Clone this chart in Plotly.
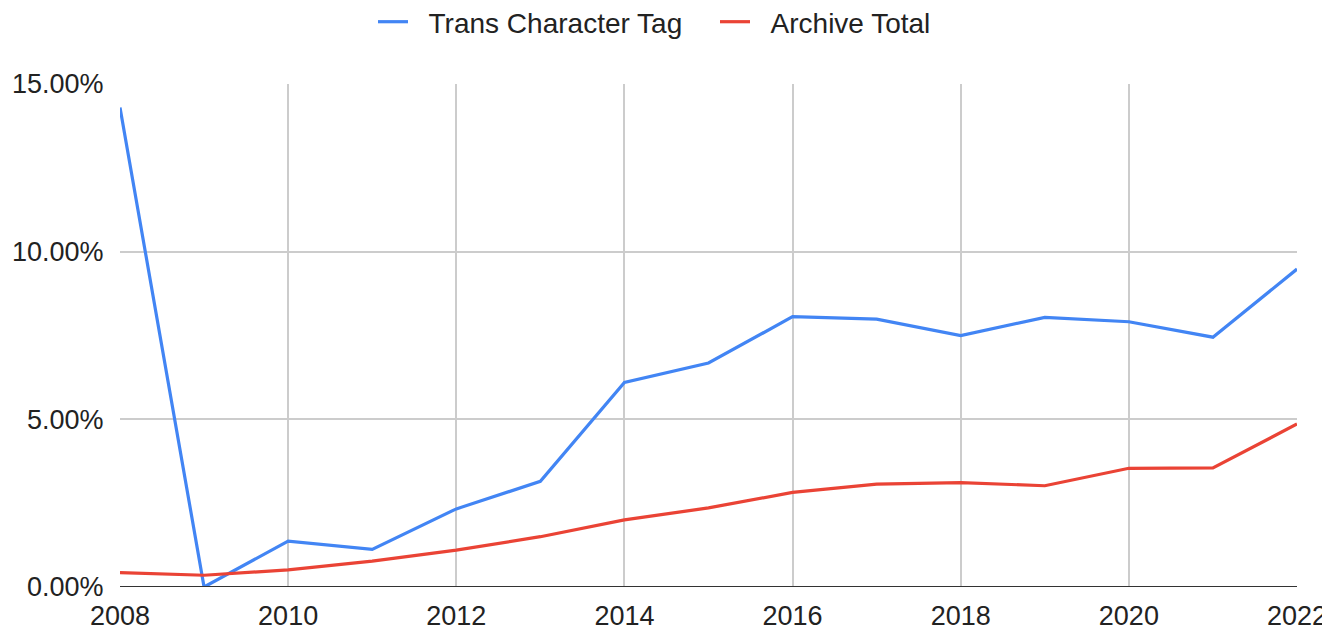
import plotly.graph_objects as go

years = list(range(2008, 2023))
trans_tag = [14.3, 0.0, 1.37, 1.12, 2.33, 3.15, 6.1, 6.68, 8.06, 7.99, 7.5, 8.04, 7.91, 7.45, 9.48]
archive_total = [0.43, 0.35, 0.51, 0.77, 1.1, 1.5, 2.0, 2.36, 2.82, 3.07, 3.11, 3.02, 3.54, 3.55, 4.86]
series_names = ["Trans Character Tag", "Archive Total"]
y_ticks = [0, 5, 10, 15]
x_ticks = list(range(2008, 2023, 2))

FONT = "Liberation Sans, Arial, sans-serif"
TXT = "#222222"
W, H = 1322, 622  # page body has an 8px margin in the 1330x630 window
PAD = "\u00a0\u00a0"  # gap between legend swatch and label

fig = go.Figure()
fig.add_trace(go.Scatter(x=years, y=trans_tag, mode="lines", name=PAD + series_names[0],
                         line=dict(color="#4285F4", width=3.2)))
fig.add_trace(go.Scatter(x=years, y=archive_total, mode="lines", name=PAD + series_names[1],
                         line=dict(color="#EA4335", width=3.2)))

fig.update_layout(
    width=W, height=H,
    margin=dict(l=112, r=33, t=76, b=43, autoexpand=False),
    paper_bgcolor="white", plot_bgcolor="white",
    font=dict(family=FONT, size=27, color=TXT),
    showlegend=True,
    legend=dict(orientation="h", x=365 / W, xanchor="left", y=1 - 14 / H, yanchor="middle",
                xref="container", yref="container", entrywidth=297,
                font=dict(size=28, color=TXT), itemwidth=30),
)
fig.update_xaxes(range=[2008, 2022], tickvals=x_ticks, ticktext=[str(v) for v in x_ticks],
                 showgrid=True, gridcolor="#cccccc", gridwidth=1.5, zeroline=False,
                 showline=False, ticks="outside", ticklen=5, tickcolor="rgba(0,0,0,0)",
                 tickfont=dict(size=27, color=TXT))
fig.update_yaxes(range=[0, 15], tickvals=y_ticks, ticktext=[f"{v:.2f}%" for v in y_ticks],
                 showgrid=True, gridcolor="#cccccc", gridwidth=1.5, zeroline=False,
                 showline=False, ticks="outside", ticklen=10, tickcolor="rgba(0,0,0,0)",
                 tickfont=dict(size=27, color=TXT))
# baseline axis at 0
fig.add_shape(type="line", xref="paper", yref="y", x0=0, x1=1, y0=0, y1=0,
              line=dict(color="#333333", width=2), layer="above")

fig.write_html("out.html")
